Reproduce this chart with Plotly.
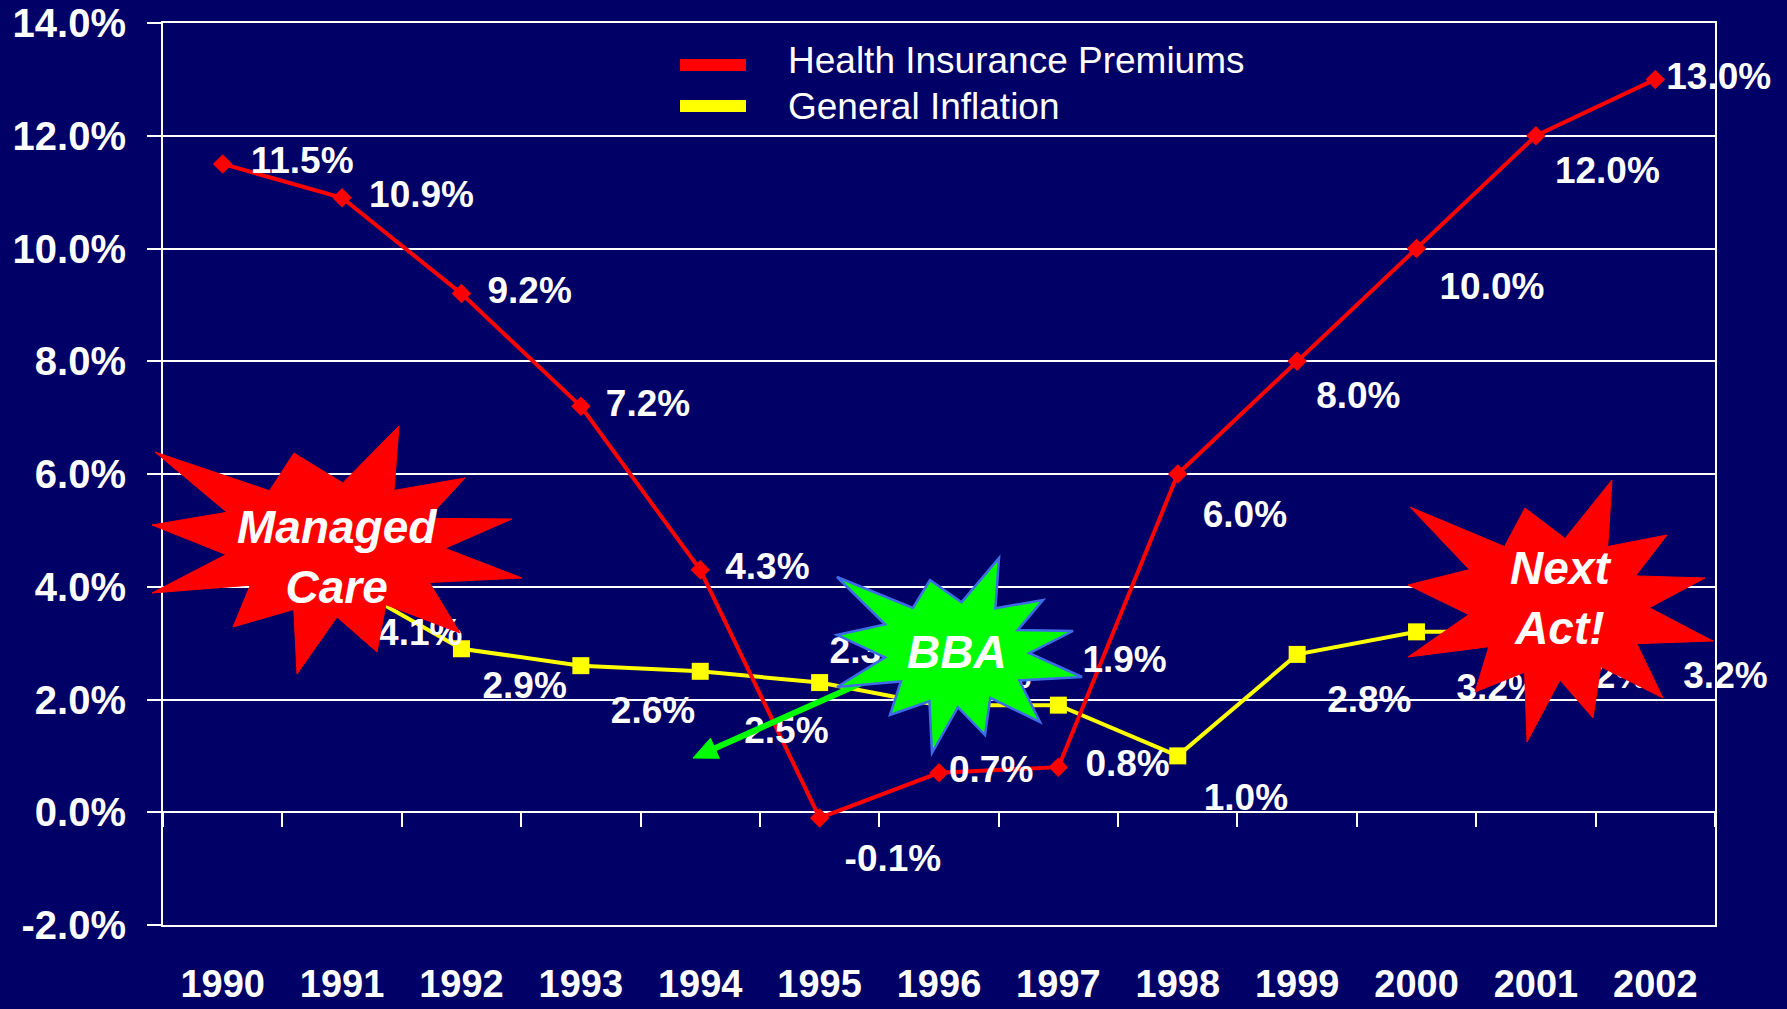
import plotly.graph_objects as go

# ---------------- data ----------------
years = ["1990", "1991", "1992", "1993", "1994", "1995", "1996",
         "1997", "1998", "1999", "2000", "2001", "2002"]
premiums = [11.5, 10.9, 9.2, 7.2, 4.3, -0.1, 0.7, 0.8, 6.0, 8.0, 10.0, 12.0, 13.0]
inflation = [5.0, 4.1, 2.9, 2.6, 2.5, 2.3, 1.9, 1.9, 1.0, 2.8, 3.2, 3.2, 3.2]
series_names = ["Health Insurance Premiums", "General Inflation"]
y_ticks = [-2, 0, 2, 4, 6, 8, 10, 12, 14]
callouts = ["Managed<br>Care", "BBA", "Next<br>Act!"]

# ---------------- layout helpers ----------------
W_FIG, H_FIG = 1787, 1009
L, R, T, B = 163, 1715, 23, 925
PW, PH = R - L, B - T

NAVY = "#000066"
RED = "#FF0000"
YELLOW = "#FFFF00"
GREEN = "#00FF00"
FONT = "Liberation Sans, Arial, sans-serif"


def px(x):
    return (x - L) / PW


def py(y):
    return (B - y) / PH


def star_path(tips, center, k=0.6):
    cx, cy = center
    pts = []
    n = len(tips)
    for i in range(n):
        tx, ty = tips[i]
        nx, ny = tips[(i + 1) % n]
        pts.append((tx, ty))
        mx, my = (tx + nx) / 2, (ty + ny) / 2
        pts.append((cx + k * (mx - cx), cy + k * (my - cy)))
    return "M " + " L ".join(f"{px(x):.5f},{py(y):.5f}" for x, y in pts) + " Z"


def offset_size(r):
    # plotly puts positioned text r = size/1.6 + 1 px away from the point
    return max(1.6 * (r - 1), 0.1)


# label placement (position keyword + distance in px from the point)
red_pos = ["middle right"] * 5 + ["bottom right", "middle right", "middle right",
                                   "bottom right", "bottom right", "bottom right",
                                   "bottom right", "middle right"]
red_off = [28, 27, 26, 25, 25, 25, 10, 27, 25, 19, 23, 19, 11]
yel_pos = ["bottom right"] * 5 + ["top right", "top right", "top right"] + ["bottom right"] * 5
yel_off = [30, 36, 21, 30, 44, 10, 8, 24, 26, 30, 40, 28, 28]

label_font = dict(family=FONT, size=37, color="white", weight="bold")

fig = go.Figure()

fig.add_trace(go.Scatter(
    x=years, y=inflation, name=series_names[1], mode="lines+markers",
    line=dict(color=YELLOW, width=4),
    marker=dict(symbol="square", size=17, color=YELLOW),
    showlegend=False, hoverinfo="skip"))

fig.add_trace(go.Scatter(
    x=years, y=premiums, name=series_names[0], mode="lines+markers",
    line=dict(color=RED, width=4),
    marker=dict(symbol="diamond", size=15, color=RED),
    showlegend=False, hoverinfo="skip"))

# value labels
for vals, pos, off in ((inflation, yel_pos, yel_off), (premiums, red_pos, red_off)):
    fig.add_trace(go.Scatter(
        x=years, y=vals, mode="markers+text",
        marker=dict(size=[offset_size(r) for r in off], color="rgba(0,0,0,0)",
                    opacity=0),
        text=[f"{v:.1f}%" for v in vals], textposition=pos, textfont=label_font,
        cliponaxis=False, showlegend=False, hoverinfo="skip"))

# invisible helper trace for the tick axis placed on the 0% line
fig.add_trace(go.Scatter(
    x=years, y=premiums, xaxis="x2", mode="lines", line=dict(width=0),
    opacity=0, showlegend=False, hoverinfo="skip"))

shapes = []

# legend (drawn manually)
shapes.append(dict(type="line", xref="paper", yref="paper",
                   x0=px(680), x1=px(746), y0=py(65), y1=py(65),
                   line=dict(color=RED, width=12)))
shapes.append(dict(type="line", xref="paper", yref="paper",
                   x0=px(680), x1=px(746), y0=py(106), y1=py(106),
                   line=dict(color=YELLOW, width=12)))

# green arrow (tail hidden under the BBA burst)
tail = (875, 677)
tip = (693, 758)
dx, dy = tip[0] - tail[0], tip[1] - tail[1]
ln = (dx ** 2 + dy ** 2) ** 0.5
ux, uy = dx / ln, dy / ln
hl, hw = 24, 11
bx, by = tip[0] - hl * ux, tip[1] - hl * uy
shapes.append(dict(type="line", xref="paper", yref="paper",
                   x0=px(tail[0]), y0=py(tail[1]), x1=px(bx), y1=py(by),
                   line=dict(color=GREEN, width=6)))
c1 = (bx + hw * (-uy), by + hw * ux)
c2 = (bx - hw * (-uy), by - hw * ux)
shapes.append(dict(type="path", xref="paper", yref="paper",
                   path=f"M {px(tip[0])},{py(tip[1])} L {px(c1[0])},{py(c1[1])} "
                        f"L {px(c2[0])},{py(c2[1])} Z",
                   fillcolor=GREEN, line=dict(color=GREEN, width=1)))

# starbursts
mc_tips = [(155, 452), (294, 453), (399, 426), (465, 478), (512, 519), (522, 578),
           (460, 633), (377, 652), (297, 674), (233, 627), (152, 593), (152, 525)]
bba_tips = [(837, 577), (930, 580), (999, 558), (1043, 600), (1073, 631), (1082, 677),
            (1040, 722), (985, 735), (932, 753), (890, 715), (837, 687), (837, 635)]
na_tips = [(1410, 507), (1525, 508), (1612, 480), (1667, 535), (1705, 578), (1713, 641),
           (1663, 698), (1593, 718), (1527, 742), (1475, 692), (1408, 657), (1408, 585)]

shapes.append(dict(type="path", xref="paper", yref="paper",
                   path=star_path(mc_tips, (337, 548)),
                   fillcolor=RED, line=dict(color=RED, width=1)))
shapes.append(dict(type="path", xref="paper", yref="paper",
                   path=star_path(bba_tips, (957, 652)),
                   fillcolor=GREEN, line=dict(color="#3D6CE8", width=2.5)))
shapes.append(dict(type="path", xref="paper", yref="paper",
                   path=star_path(na_tips, (1560, 605)),
                   fillcolor=RED, line=dict(color=RED, width=1)))

call_font = dict(family=FONT, size=46, color="white", weight="bold", style="italic")
legend_font = dict(family=FONT, size=37, color="white")
annotations = [
    dict(xref="paper", yref="paper", x=px(786), y=py(61), text=series_names[0],
         xanchor="left", yanchor="middle", showarrow=False, font=legend_font),
    dict(xref="paper", yref="paper", x=px(786), y=py(106), text=series_names[1],
         xanchor="left", yanchor="middle", showarrow=False, font=legend_font),
    dict(xref="paper", yref="paper", x=px(337), y=py(557), text=callouts[0],
         xanchor="center", yanchor="middle", showarrow=False, font=call_font),
    dict(xref="paper", yref="paper", x=px(957), y=py(652), text=callouts[1],
         xanchor="center", yanchor="middle", showarrow=False, font=call_font),
    dict(xref="paper", yref="paper", x=px(1560), y=py(598), text=callouts[2],
         xanchor="center", yanchor="middle", showarrow=False, font=call_font),
]

xtick_font = dict(family=FONT, size=38, color="white", weight="bold")
ytick_font = dict(family=FONT, size=40, color="white", weight="bold")

fig.update_layout(
    width=W_FIG, height=H_FIG,
    margin=dict(l=L, r=W_FIG - R, t=T, b=H_FIG - B, pad=0, autoexpand=False),
    paper_bgcolor=NAVY, plot_bgcolor=NAVY,
    showlegend=False,
    shapes=shapes, annotations=annotations,
    xaxis=dict(type="category", categoryorder="array", categoryarray=years,
               range=[-0.5, len(years) - 0.5], automargin=False,
               showgrid=False, zeroline=False,
               showline=True, linecolor="white", linewidth=2, mirror=True,
               ticks="", tickfont=xtick_font, ticklabelstandoff=24),
    xaxis2=dict(type="category", categoryorder="array", categoryarray=years,
                range=[-0.5, len(years) - 0.5], overlaying="x", automargin=False,
                anchor="free", position=(0 - y_ticks[0]) / (y_ticks[-1] - y_ticks[0]),
                side="bottom", showgrid=False, zeroline=False, showline=False,
                ticks="outside", tickson="boundaries", ticklen=14, tickwidth=2,
                tickcolor="white", showticklabels=False),
    yaxis=dict(range=[y_ticks[0], y_ticks[-1]], tickvals=y_ticks,
               ticktext=[f"{v:.1f}%" for v in y_ticks], automargin=False,
               showgrid=True, gridcolor="white", gridwidth=2,
               zeroline=False,
               showline=True, linecolor="white", linewidth=2, mirror=True,
               ticks="outside", ticklen=14, tickwidth=2, tickcolor="white",
               tickfont=ytick_font, ticklabelstandoff=13),
)

fig.write_html("out.html",
               config={"displayModeBar": False},
               post_script="document.body.style.margin='0';"
                           "document.body.style.background='#000066';"
                           "document.body.style.overflow='hidden';")
